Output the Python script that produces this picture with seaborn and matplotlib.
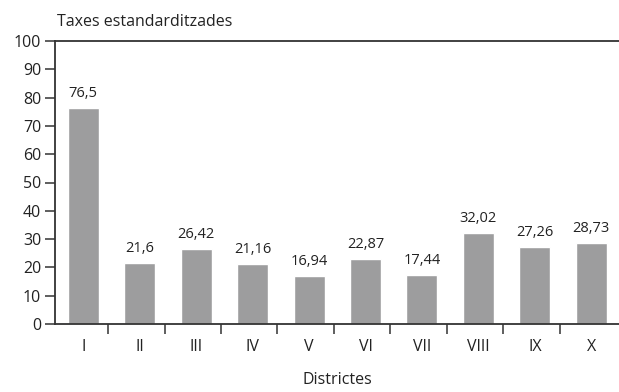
import matplotlib
matplotlib.use("Agg")
import matplotlib.pyplot as plt
import seaborn as sns
import pandas as pd
import numpy as np

districtes = ["I", "II", "III", "IV", "V", "VI", "VII", "VIII", "IX", "X"]
taxes = [76.5, 21.6, 26.42, 21.16, 16.94, 22.87, 17.44, 32.02, 27.26, 28.73]
etiquetes = ["76,5", "21,6", "26,42", "21,16", "16,94", "22,87", "17,44", "32,02", "27,26", "28,73"]

sns.set_style("white")
plt.rcParams["font.family"] = ["Open Sans", "DejaVu Sans"]

df = pd.DataFrame({"districte": districtes, "taxa": taxes})

fig = plt.figure(figsize=(6.19, 3.92), dpi=100)
ax = fig.add_axes([55 / 619, 68 / 392, 1 - 55 / 619 + 0.01, (324 - 41) / 392])

sns.barplot(data=df, x="districte", y="taxa", color="#9d9d9e", saturation=1,
            width=0.55, ax=ax, errorbar=None)

ax.set_ylim(0, 100)
ax.set_xlim(-0.5, 9.6)
ax.set_yticks(np.arange(0, 101, 10))
ax.tick_params(axis="y", labelsize=11.5, length=7, width=1.1, color="#333333",
               labelcolor="#222222", pad=3, left=True)

# separators between districts as minor ticks, labels centred under the bars
ax.set_xticks(np.arange(len(districtes) - 1) + 0.44, minor=True)
ax.tick_params(axis="x", which="minor", length=7, width=1.1, color="#333333", bottom=True)
ax.tick_params(axis="x", which="major", length=0, labelsize=11.5, labelcolor="#222222", pad=11)

for side in ["left", "bottom", "top"]:
    ax.spines[side].set_visible(True)
    ax.spines[side].set_color("#333333")
    ax.spines[side].set_linewidth(1.3)
ax.spines["right"].set_visible(False)

for i, (v, t) in enumerate(zip(taxes, etiquetes)):
    ax.annotate(t, (i, v), xytext=(0, 5), textcoords="offset points",
                ha="center", va="bottom", fontsize=10.5, color="#222222")

ax.set_xlabel("Districtes", fontsize=11.5, color="#222222")
ax.xaxis.set_label_coords((337 - 55) / (619 - 55 + 6), -0.168)
ax.set_ylabel("")
fig.text(57 / 619, 1 - 22 / 392, "Taxes estandarditzades", ha="left", va="center",
         fontsize=11.5, color="#222222")

fig.savefig("out.png", dpi=100)
